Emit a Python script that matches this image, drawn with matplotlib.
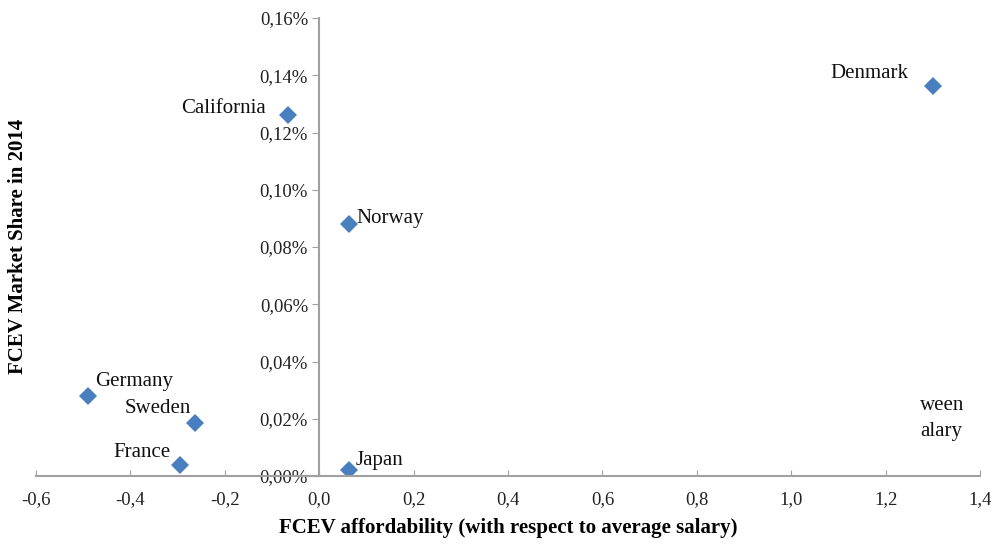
import numpy as np
import matplotlib
matplotlib.use('Agg')
import matplotlib.pyplot as plt
from matplotlib.ticker import FuncFormatter

# data
names = ['Denmark', 'California', 'Norway', 'Germany', 'Sweden', 'France', 'Japan']
affordability = [1.30, -0.066, 0.063, -0.49, -0.263, -0.295, 0.063]
share_pct = [0.1362, 0.1261, 0.0880, 0.0279, 0.0185, 0.0038, 0.0021]
x_ticks = [-0.6, -0.4, -0.2, 0.0, 0.2, 0.4, 0.6, 0.8, 1.0, 1.2, 1.4]
y_ticks = [0.00, 0.02, 0.04, 0.06, 0.08, 0.10, 0.12, 0.14, 0.16]

# label placement (offset in pixels, alignment)
offsets = {
    'Denmark': (-24, 13, 'right'),
    'California': (-22, 7, 'right'),
    'Norway': (7, 6, 'left'),
    'Germany': (7, 15, 'left'),
    'Sweden': (-4, 15, 'right'),
    'France': (-9, 13, 'right'),
    'Japan': (7, 9, 'left'),
}

plt.rcParams['font.family'] = ['Liberation Serif', 'DejaVu Serif']

fig = plt.figure(figsize=(10, 5.47), dpi=100)
ax = fig.add_axes([0.036, 0.1298, 0.944, 0.8372])

ax.plot(affordability, share_pct, 'D', color='#4a7fbf', markersize=9,
        markeredgewidth=0)

for n, x, y in zip(names, affordability, share_pct):
    dx, dy, ha = offsets[n]
    ax.annotate(n, (x, y), xytext=(dx, dy), textcoords='offset pixels',
                ha=ha, va='center', fontsize=15, color='#111111')

ax.set_xlim(-0.6, 1.4)
ax.set_ylim(0, 0.16)
ax.set_xticks(x_ticks)
ax.set_yticks(y_ticks)
ax.xaxis.set_major_formatter(FuncFormatter(lambda v, p: '{:.1f}'.format(v).replace('.', ',')))
ax.yaxis.set_major_formatter(FuncFormatter(lambda v, p: '{:.2f}%'.format(v).replace('.', ',')))

for s in ('top', 'right'):
    ax.spines[s].set_visible(False)
ax.spines['left'].set_position(('data', 0))
for s in ('left', 'bottom'):
    ax.spines[s].set_color('#a0a0a0')
    ax.spines[s].set_linewidth(1.5)
ax.tick_params(axis='x', direction='in', length=4, color='#a0a0a0',
               labelsize=13.5, pad=11, labelcolor='#222222')
ax.tick_params(axis='y', direction='out', length=5, color='#a0a0a0',
               labelsize=13.5, pad=3, labelcolor='#222222')

fig.text(0.018, 0.55, 'FCEV Market Share in 2014', rotation=90, ha='center',
         va='center', fontsize=15, fontweight='bold')
fig.text(0.508, 0.035, 'FCEV affordability (with respect to average salary)',
         ha='center', va='center', fontsize=15, fontweight='bold')

# stray fragment of text in the source image
ax.text(1.273, 0.0248, 'ween', ha='left', va='center', fontsize=15, color='#111111')
ax.text(1.273, 0.0154, 'alary', ha='left', va='center', fontsize=15, color='#111111')

fig.savefig('out.png', dpi=100)
